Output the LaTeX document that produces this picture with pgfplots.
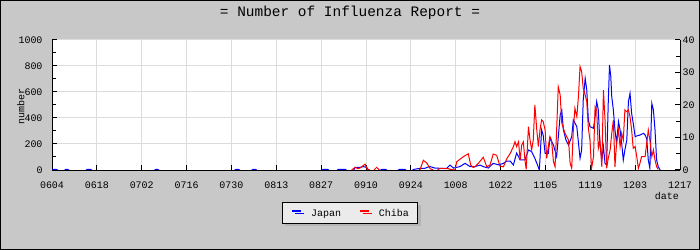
\documentclass[border=0pt]{standalone}
\usepackage{fontspec}
\setmainfont{Liberation Mono}
\usepackage{pgfplots}
\pgfplotsset{compat=1.18}
\usetikzlibrary{shadows}
\definecolor{bg}{HTML}{C8C8C8}
\definecolor{gridc}{HTML}{DCDCDC}
\definecolor{legbg}{HTML}{EBEBEB}
\definecolor{shadowc}{HTML}{B4B4B4}
\definecolor{jblue}{HTML}{0000FF}
\definecolor{cred}{HTML}{FF0000}
\begin{document}
\begin{tikzpicture}
\fill[bg] (0bp,0bp) rectangle (700bp,250bp);
\draw[black, line width=1bp] (0.5bp,0.5bp) rectangle (699.5bp,249.5bp);
\useasboundingbox (0bp,0bp) rectangle (700bp,250bp);
\node[font=\fontsize{14.5}{16}\selectfont] at (350bp,237bp) {= Number of Influenza Report =};
\pgfplotsset{
  common/.style={
    at={(52bp,80bp)}, anchor=south west, scale only axis,
    width=628bp, height=130bp, xmin=0, xmax=196,
    axis line style={black, line width=1bp, -},
    tick style={black, line width=1bp},
    tick align=inside,
    major tick length=5bp, minor tick length=4bp,
    tick label style={font=\fontsize{10}{12}\selectfont},
    /pgf/number format/assume math mode=true,
    /pgf/number format/1000 sep={},
    unbounded coords=jump,
  }
}
% Japan axis (left)
\begin{axis}[common,
  ymin=0, ymax=1000,
  axis x line*=bottom, axis y line*=left,
  axis background/.style={fill=white},
  xtick={0,14,...,196},
  xticklabels={0604,0618,0702,0716,0730,0813,0827,0910,0924,1008,1022,1105,1119,1203,1217},
  ytick={0,200,...,1000}, minor ytick={100,300,...,900},
  xmajorgrids, ymajorgrids,
  major grid style={gridc, line width=1bp},
  xticklabel style={yshift=-8bp},
  yticklabel style={xshift=-6bp},
  ylabel={number},
  every axis y label/.style={at={(axis description cs:-0.0498,0.49)}, rotate=90, anchor=center, font=\fontsize{10}{12}\selectfont},
  xlabel={date},
  every axis x label/.style={at={(axis description cs:0.979,-0.2)}, anchor=center, font=\fontsize{10}{12}\selectfont},
  legend columns=2,
  legend image code/.code={\path (0bp,-2bp) (9bp,7bp); \draw[#1, line width=2bp] (0bp,3.5bp) -- (9bp,3.5bp);},
  legend style={at={(axis description cs:0.4745,-0.329)}, anchor=center,
    draw=black, line width=1bp, fill=legbg,
    drop shadow={shadow xshift=3bp, shadow yshift=-3bp, fill=shadowc, opacity=1},
    font=\fontsize{10}{12}\selectfont,
    inner xsep=9bp, inner ysep=4.5bp,
    nodes={inner sep=0bp, text height=7bp, text depth=2bp},
    /tikz/every odd column/.append style={column sep=9bp},
    /tikz/every even column/.append style={column sep=18bp}},
]
\addplot[jblue, line width=1bp] coordinates {
(0,0)(0.5,4)(1.3,4)(1.8,0)(2.5,nan)(3.9,0)(4.3,4)(4.9,4)(5.3,0)(6,nan)(10.6,0)(11,4)(12,4)(12.4,0)(13,nan)
(32,0)(32.4,4)(33,4)(33.4,0)(34,nan)(57,0)(57.4,4)(58.2,4)(58.6,0)(60,nan)(62.3,0)(62.7,4)(63.5,4)(63.9,0)(65,nan)
(84.3,0)(84.7,5)(86,5)(86.4,0)(87,nan)(89,0)(89.4,5)(91.5,5)(91.9,0)(93,nan)(94.2,0)(94.6,20)(96.1,20)(97.2,26)(98.2,20)(98.8,0)(100,nan)
(102.5,0)(103,5)(104,5)(104.5,0)(106,nan)(108,0)(108.5,5)(110,5)(110.5,0)(111,nan)(112.5,0)(113,5)(114.9,13)(116.4,13)(117,20)(118,26)(119.5,15)(121.1,13)(123.2,13)(124.2,38)(125.3,15)(127.3,26)(128.9,51)(130.5,26)(132,26)(133.6,38)(134.6,26)(136.2,15)(137.7,51)(139.3,40)(140.9,51)(141.9,69)(143,69)(144,38)(145,130)(145.6,103)(146.1,77)(147.6,77)(148.7,154)(149.7,141)(150.7,90)(151.5,40)(152.1,0)(152.8,308)(153.3,269)(153.9,128)(154.9,128)(155.4,244)(156.5,192)(157.5,103)(158.6,423)(159.1,462)(159.6,308)(160.4,231)(161.2,192)(162.2,256)(162.7,385)(163.8,333)(164.8,90)(165.3,154)(165.8,538)(166.4,705)(166.9,615)(167.4,385)(167.9,333)(169,321)(169.5,410)(170,526)(170.5,462)(171,205)(171.6,77)(172.1,180)(172.6,51)(173.1,38)(173.6,513)(174,808)(174.4,718)(174.7,564)(175.2,462)(175.7,308)(176.2,205)(176.8,372)(177.3,308)(177.8,205)(178.3,77)(178.8,154)(179.4,231)(179.9,526)(180.4,590)(180.9,436)(181.4,359)(182,256)(182.5,262)(183.5,269)(184.6,282)(185.1,269)(185.6,244)(186.1,77)(186.6,13)(187.2,513)(187.7,462)(188.2,308)(188.7,77)(189.2,26)(189.8,0)
};
\addlegendentry{Japan}
\addlegendimage{cred, line width=1bp}
\addlegendentry{Chiba}
\end{axis}
% Chiba axis (right)
\begin{axis}[common,
  ymin=0, ymax=40,
  axis x line=none, axis y line*=right,
  ytick={0,10,...,40}, minor ytick={5,15,25,35},
  yticklabel style={xshift=-1bp},
]
\addplot[cred, line width=1bp] coordinates {
(93.5,0)(94.6,0.8)(95.5,0.4)(96.1,0.6)(97.7,1.8)(98.4,0.3)(99.2,0)(100,nan)(100.5,0)(101.3,0.8)(102.2,0)(103,nan)
(114.5,0)(114.9,0.2)(115.9,3.0)(117,2.1)(118,0.4)(119,0)(119.7,nan)
(120.3,0)(120.6,0.2)(121.1,0.5)(123.7,0.4)(124.2,0.2)(125.8,0)(126.3,2.5)(127.3,3.3)(128.4,4.1)(129.9,5.0)(130.7,1.5)(131.5,0.8)(132,1.0)(133.1,2.1)(134.6,3.9)(135.7,1.0)(136.7,1.5)(137.7,4.9)(138.8,4.5)(139.8,1.2)(140.9,1.0)(141.9,3.4)(143,5.1)(144,7.2)(144.5,8.7)(145,7.2)(145.6,8.7)(146.1,3.1)(146.6,7.7)(147.1,8.7)(147.6,3.1)(148,0.2)(148.7,13.3)(149.2,9.2)(149.7,6.2)(150.2,9.2)(150.7,20)(151.3,12.3)(151.8,7.2)(152.3,12.3)(152.8,15.4)(153.3,14.9)(153.9,12.3)(154.4,3.6)(154.9,7.2)(155.4,10.3)(155.9,9.2)(156.5,2.6)(157,1.0)(157.5,12.3)(158,25.6)(158.6,23.1)(159.1,14.4)(160.1,11.3)(161.2,9.2)(161.7,2.1)(162.2,0.5)(162.7,12.3)(163.2,19)(163.8,16.4)(164.3,22.6)(164.8,31.8)(165.3,30.3)(165.8,25.1)(166.4,23.1)(166.9,21)(167.4,12.8)(167.9,9.2)(168.4,0.5)(169,4.1)(169.5,19.5)(170,18.5)(170.5,6.7)(171,9.2)(171.6,1.0)(172.1,24.6)(172.6,15.4)(173.1,0.5)(173.6,3.6)(174.2,6.2)(174.7,11.3)(175.2,15.4)(175.7,1.0)(176.2,8.2)(176.8,12.3)(177.3,7.2)(177.8,11.3)(178.3,9.2)(178.8,18.5)(179.4,17.9)(179.9,18.5)(180.4,16.4)(180.9,12.3)(181.4,6.7)(182,7.2)(182.5,4.1)(183,0.5)(183.5,2.1)(184,4.1)(185.1,4.1)(185.6,8.2)(186.1,12.3)(186.6,9.2)(187.2,4.1)(187.7,6.2)(188.2,3.1)(188.7,1.0)(189.2,0.2)
};
\end{axis}
\end{tikzpicture}
\end{document}
